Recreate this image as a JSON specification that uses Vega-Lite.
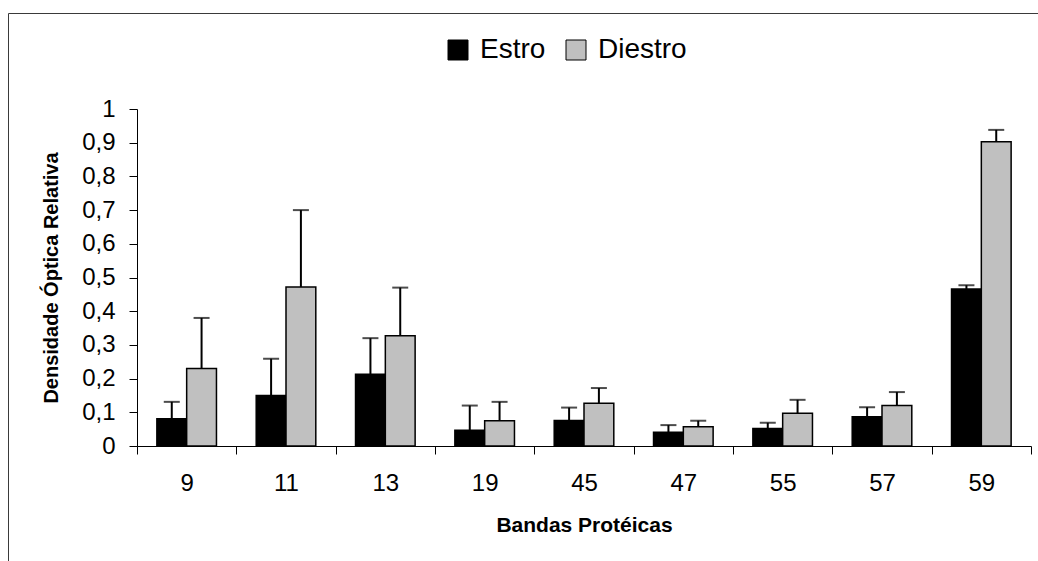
{
  "$schema": "https://vega.github.io/schema/vega-lite/v6.json",
  "autosize": {"type": "none"},
  "padding": {"left": 8, "top": 13, "right": 0, "bottom": 0},
  "width": 1030,
  "height": 548,
  "background": "white",
  "config": {
    "view": {"stroke": "#3a3a3a", "strokeWidth": 1},
    "locale": {"number": {"decimal": ",", "thousands": ".", "grouping": [3], "currency": ["", ""]}},
    "font": "Liberation Sans",
    "axis": {
      "grid": false,
      "domainColor": "black",
      "domainWidth": 1,
      "tickColor": "black",
      "tickWidth": 1,
      "tickSize": 8,
      "labelColor": "black",
      "titleColor": "black",
      "labelFont": "Liberation Sans",
      "titleFont": "Liberation Sans",
      "titleFontWeight": "bold"
    }
  },
  "data": {
    "values": [
      {"banda": "9", "ciclo": "Estro", "media": 0.081, "superior": 0.131},
      {"banda": "9", "ciclo": "Diestro", "media": 0.23, "superior": 0.38},
      {"banda": "11", "ciclo": "Estro", "media": 0.15, "superior": 0.259},
      {"banda": "11", "ciclo": "Diestro", "media": 0.472, "superior": 0.70},
      {"banda": "13", "ciclo": "Estro", "media": 0.213, "superior": 0.32},
      {"banda": "13", "ciclo": "Diestro", "media": 0.327, "superior": 0.47},
      {"banda": "19", "ciclo": "Estro", "media": 0.047, "superior": 0.12},
      {"banda": "19", "ciclo": "Diestro", "media": 0.075, "superior": 0.131},
      {"banda": "45", "ciclo": "Estro", "media": 0.076, "superior": 0.114},
      {"banda": "45", "ciclo": "Diestro", "media": 0.127, "superior": 0.172},
      {"banda": "47", "ciclo": "Estro", "media": 0.041, "superior": 0.062},
      {"banda": "47", "ciclo": "Diestro", "media": 0.057, "superior": 0.075},
      {"banda": "55", "ciclo": "Estro", "media": 0.052, "superior": 0.069},
      {"banda": "55", "ciclo": "Diestro", "media": 0.097, "superior": 0.137},
      {"banda": "57", "ciclo": "Estro", "media": 0.087, "superior": 0.115},
      {"banda": "57", "ciclo": "Diestro", "media": 0.12, "superior": 0.16},
      {"banda": "59", "ciclo": "Estro", "media": 0.466, "superior": 0.477},
      {"banda": "59", "ciclo": "Diestro", "media": 0.903, "superior": 0.938}
    ]
  },
  "encoding": {
    "x": {
      "field": "banda",
      "type": "nominal",
      "sort": ["9", "11", "13", "19", "45", "47", "55", "57", "59"],
      "scale": {"range": [129, 1023], "paddingInner": 0, "paddingOuter": 0},
      "axis": {
        "title": "Bandas Protéicas",
        "labelAngle": 0,
        "tickBand": "extent",
        "offset": -115,
        "labelFontSize": 24,
        "labelPadding": 17,
        "titleFontSize": 21,
        "titlePadding": 19
      }
    },
    "xOffset": {
      "field": "ciclo",
      "sort": ["Estro", "Diestro"],
      "scale": {"paddingInner": 0, "paddingOuter": 0.6667}
    }
  },
  "layer": [
    {
      "mark": {"type": "bar", "stroke": "black", "strokeWidth": 1.5},
      "encoding": {
        "y": {
          "field": "media",
          "type": "quantitative",
          "scale": {"domain": [0, 1], "range": [433, 96], "nice": false},
          "axis": {
            "title": "Densidade Óptica Relativa",
            "values": [0, 0.1, 0.2, 0.3, 0.4, 0.5, 0.6, 0.7, 0.8, 0.9, 1],
            "format": ".1~f",
            "offset": -129,
            "labelFontSize": 24,
            "labelPadding": 14,
            "titleFontSize": 20,
            "titlePadding": 20
          }
        },
        "color": {
          "field": "ciclo",
          "type": "nominal",
          "sort": ["Estro", "Diestro"],
          "scale": {"domain": ["Estro", "Diestro"], "range": ["#000000", "#c0c0c0"]},
          "legend": {
            "orient": "none",
            "legendX": 436,
            "legendY": 23,
            "direction": "horizontal",
            "title": null,
            "symbolType": "square",
            "symbolSize": 400,
            "symbolStrokeColor": "black",
            "symbolStrokeWidth": 1,
            "labelFontSize": 28,
            "labelFont": "Liberation Sans",
            "labelColor": "black",
            "labelOffset": 8,
            "columnPadding": 16
          }
        }
      }
    },
    {
      "mark": {"type": "rule", "color": "black", "strokeWidth": 2},
      "encoding": {
        "y": {"field": "media", "type": "quantitative"},
        "y2": {"field": "superior"}
      }
    },
    {
      "mark": {"type": "tick", "color": "black", "thickness": 2, "size": 16, "orient": "horizontal"},
      "encoding": {
        "y": {"field": "superior", "type": "quantitative"}
      }
    }
  ]
}
